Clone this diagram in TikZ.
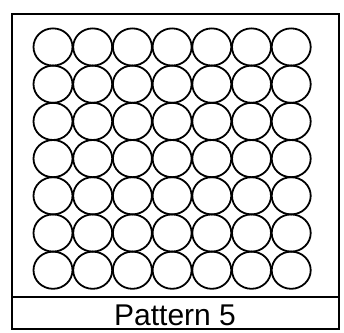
\documentclass[tikz,border=0pt]{standalone}
\usepackage{fontspec}
\setmainfont{Liberation Sans}
\begin{document}
\begin{tikzpicture}[x=1pt,y=-1pt,
  ball/.style={line width=1.8pt},
  frame/.style={line width=1.6pt}
]
\useasboundingbox (0,0) rectangle (344,332);
% outer frame and label strip
\draw[frame] (12,14) rectangle (339,329);
\draw[frame] (12,297) -- (339,297);
\node[font=\fontsize{30}{30}\selectfont,anchor=base] (label) at (175,325) {Pattern 5};
% 7x7 grid of circles
\foreach \i in {0,...,6}
  \foreach \j in {0,...,6}
    \draw[ball] ({53+39.7*\i},{47+37.2*\j}) ellipse [x radius=19.5pt, y radius=18.6pt];
\end{tikzpicture}
\end{document}
